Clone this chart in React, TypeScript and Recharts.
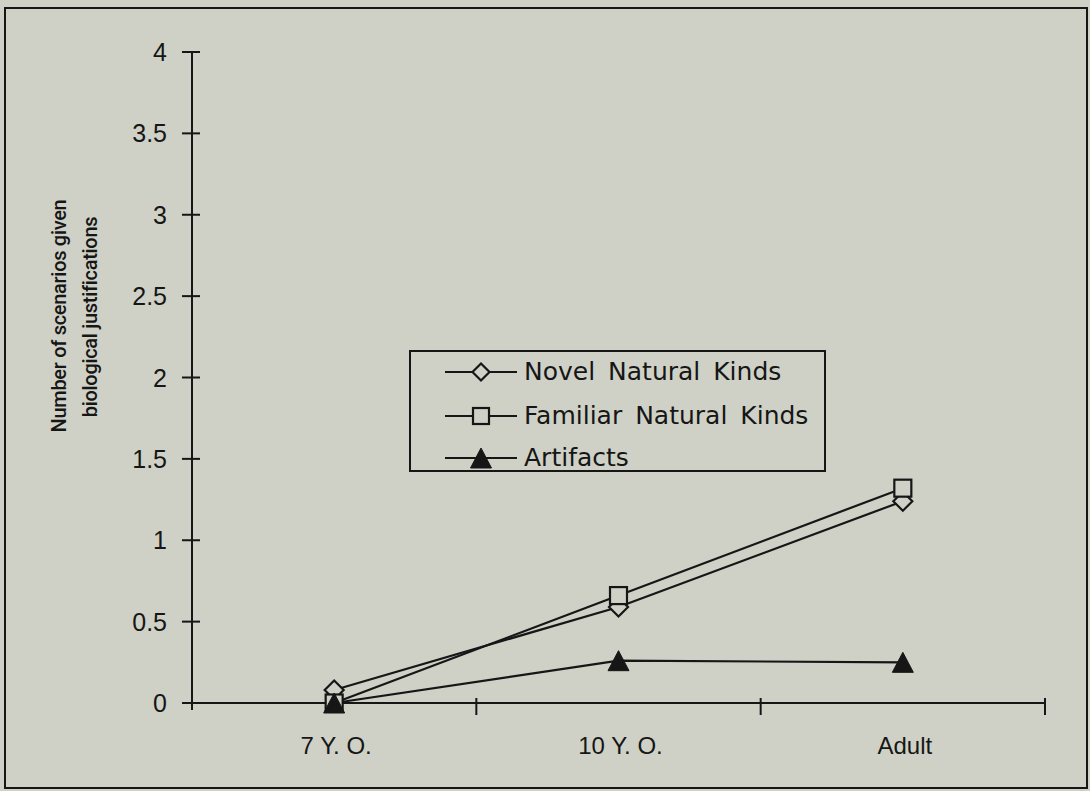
import React from 'react';
import { LineChart, Line, XAxis, YAxis, Legend } from 'recharts';

const categories = ['7 Y. O.', '10 Y. O.', 'Adult'];
const novelNaturalKinds = [0.08, 0.59, 1.24];
const familiarNaturalKinds = [0, 0.66, 1.32];
const artifacts = [0, 0.26, 0.25];
const yTicks = [0, 0.5, 1, 1.5, 2, 2.5, 3, 3.5, 4];
const seriesNames = ['Novel Natural Kinds', 'Familiar Natural Kinds', 'Artifacts'];
const yLabelLines = ['Number of scenarios given', 'biological justifications'];

const data = categories.map((c, i) => ({
  pos: i + 0.5,
  name: c,
  novel: novelNaturalKinds[i],
  familiar: familiarNaturalKinds[i],
  artifacts: artifacts[i],
}));
const xTicks = [0, ...categories.flatMap((_, i) => [i + 0.5, i + 1])];

const BG = '#cfd1c6';
const INK = '#161616';
const TICK_FONT = '"Liberation Sans", Arial, sans-serif';

const Diamond = ({ cx, cy, r = 9.5 }: any) => (
  <polygon
    points={`${cx},${cy - r} ${cx + r},${cy} ${cx},${cy + r} ${cx - r},${cy}`}
    fill={BG}
    stroke={INK}
    strokeWidth={2.2}
  />
);
const Square = ({ cx, cy, s = 17 }: any) => (
  <rect x={cx - s / 2} y={cy - s / 2} width={s} height={s} fill={BG} stroke={INK} strokeWidth={2.2} />
);
const Triangle = ({ cx, cy }: any) => (
  <polygon
    points={`${cx},${cy - 10} ${cx + 10.5},${cy + 10} ${cx - 10.5},${cy + 10}`}
    fill={INK}
    stroke={INK}
    strokeWidth={1}
  />
);

const YTick = (props: any) => {
  const { x, y, payload } = props;
  return (
    <g>
      <line x1={x - 10} x2={x + 8} y1={y} y2={y} stroke={INK} strokeWidth={2} />
      {payload.value === 0 && <line x1={x} x2={x} y1={y} y2={y + 7} stroke={INK} strokeWidth={2} />}
      <text
        x={x - 25}
        y={y}
        dy="0.36em"
        textAnchor="end"
        fontFamily={TICK_FONT}
        fontSize={25}
        fill={INK}
      >
        {payload.value}
      </text>
    </g>
  );
};

const XTick = (props: any) => {
  const { x, y, payload } = props;
  const v = payload.value;
  if (v === 0) return <g />;
  if (Number.isInteger(v)) {
    return <line x1={x} x2={x} y1={y - 5} y2={y + 12} stroke={INK} strokeWidth={2} />;
  }
  return (
    <text
      x={x + 2}
      y={y + 42}
      dy="0.36em"
      textAnchor="middle"
      fontFamily={TICK_FONT}
      fontSize={24}
      fill={INK}
    >
      {categories[Math.floor(v)]}
    </text>
  );
};

const YLabel = () => (
  <g fontFamily='Roboto, "Open Sans", sans-serif' fontWeight={500} fontSize={20} letterSpacing={-0.3} fill={INK}>
    <text x={66} y={316} textAnchor="middle" transform="rotate(-90 66 316)">
      {yLabelLines[0]}
    </text>
    <text x={97} y={317} textAnchor="middle" transform="rotate(-90 97 317)">
      {yLabelLines[1]}
    </text>
  </g>
);

const legendIcons = [
  (cx: number, cy: number) => <Diamond cx={cx} cy={cy} r={8.5} />,
  (cx: number, cy: number) => <Square cx={cx} cy={cy} s={16} />,
  (cx: number, cy: number) => <Triangle cx={cx} cy={cy} />,
];
const legendRows = [20, 64, 106];

const LegendBox = () => (
  <div
    style={{
      position: 'relative',
      width: 417,
      height: 122,
      border: `2px solid ${INK}`,
      boxSizing: 'border-box',
      background: BG,
    }}
  >
    {seriesNames.map((name, i) => (
      <div key={name} style={{ position: 'absolute', left: 0, top: legendRows[i] - 20, height: 40, width: 415 }}>
        <svg width={110} height={40} style={{ position: 'absolute', left: 0, top: 0 }}>
          <line x1={34} x2={106} y1={20} y2={20} stroke={INK} strokeWidth={2} />
          {legendIcons[i](70, 20)}
        </svg>
        <span
          style={{
            position: 'absolute',
            left: 113,
            top: 0,
            lineHeight: '40px',
            fontFamily: '"DejaVu Sans", Verdana, sans-serif',
            fontSize: 25,
            wordSpacing: 5,
            color: INK,
            whiteSpace: 'nowrap',
          }}
        >
          {name}
        </span>
      </div>
    ))}
  </div>
);

export default function App() {
  return (
    <div style={{ position: 'absolute', left: 0, top: 0, width: 1090, height: 791, background: BG, overflow: 'hidden' }}>
      <div
        style={{
          position: 'absolute',
          left: 4,
          top: 7,
          width: 1084,
          height: 782,
          border: `2px solid ${INK}`,
          boxSizing: 'border-box',
        }}
      />
      <div style={{ position: 'absolute', left: 0, top: 0 }}>
        <LineChart width={1090} height={791} data={data} margin={{ top: 52, right: 45, left: 72, bottom: 28 }}>
          <XAxis
            dataKey="pos"
            type="number"
            domain={[0, 3]}
            ticks={xTicks}
            interval={0}
            tickLine={false}
            tickSize={0}
            tickMargin={0}
            height={60}
            axisLine={{ stroke: INK, strokeWidth: 2 }}
            tick={<XTick />}
          />
          <YAxis
            type="number"
            domain={[0, 4]}
            ticks={yTicks}
            interval={0}
            tickLine={false}
            tickSize={0}
            tickMargin={0}
            width={120}
            axisLine={{ stroke: INK, strokeWidth: 2 }}
            tick={<YTick />}
            label={<YLabel />}
          />
          <Legend
            layout="vertical"
            align="center"
            verticalAlign="middle"
            content={() => <LegendBox />}
            wrapperStyle={{ position: 'absolute', left: 409, top: 350, width: 417, height: 122 }}
          />
          <Line
            dataKey="novel"
            name={seriesNames[0]}
            type="linear"
            stroke={INK}
            strokeWidth={2.2}
            isAnimationActive={false}
            activeDot={false}
            dot={(p: any) => <Diamond key={`n${p.index}`} cx={p.cx} cy={p.cy} />}
          />
          <Line
            dataKey="familiar"
            name={seriesNames[1]}
            type="linear"
            stroke={INK}
            strokeWidth={2.2}
            isAnimationActive={false}
            activeDot={false}
            dot={(p: any) => <Square key={`f${p.index}`} cx={p.cx} cy={p.cy} />}
          />
          <Line
            dataKey="artifacts"
            name={seriesNames[2]}
            type="linear"
            stroke={INK}
            strokeWidth={2.2}
            isAnimationActive={false}
            activeDot={false}
            dot={(p: any) => <Triangle key={`a${p.index}`} cx={p.cx} cy={p.cy} />}
          />
        </LineChart>
      </div>
    </div>
  );
}
